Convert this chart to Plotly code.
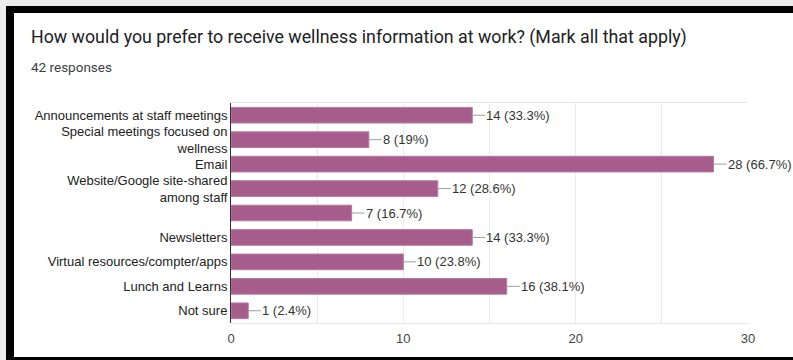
import plotly.graph_objects as go

# Survey responses (42 respondents, multiple answers allowed)
categories = [
    "Announcements at staff meetings",
    "Special meetings focused on<br>wellness",
    "Email",
    "Website/Google site-shared<br>among staff",
    " ",
    "Newsletters",
    "Virtual resources/compter/apps",
    "Lunch and Learns",
    "Not sure",
]
counts = [14, 8, 28, 12, 7, 14, 10, 16, 1]
total_responses = 42
x_ticks = [0, 10, 20, 30]

W, H = 793, 360
ML, MR, MT, MB = 231, 45, 103, 37
PW, PH = W - ML - MR, H - MT - MB

BAR_COLOR = "#a65d8b"
LABEL_FONT = dict(family="Liberation Sans, Arial, sans-serif", size=13, color="#222222")


def px_x(px):
    """pixel column -> paper x (paper spans the plot area)"""
    return (px - ML) / PW


def px_y(py):
    """pixel row (from top) -> paper y"""
    return (H - MB - py) / PH


def pct_label(n, total):
    p = round(n / total * 100, 1)
    s = f"{p:.1f}"
    if s.endswith(".0"):
        s = s[:-2]
    return f"{n} ({s}%)"


fig = go.Figure(
    go.Bar(
        x=counts,
        y=categories,
        orientation="h",
        marker=dict(color=BAR_COLOR, line=dict(color="#b77aa0", width=1)),
        hoverinfo="skip",
    )
)

# value labels joined to the bar ends by a short leader line
for cat, n in zip(categories, counts):
    fig.add_annotation(
        x=n, y=cat, xref="x", yref="y",
        text=pct_label(n, total_responses),
        showarrow=True, arrowhead=0, arrowwidth=1, arrowcolor="#9e9e9e",
        ax=13, ay=0, axref="pixel", ayref="pixel",
        xanchor="left", standoff=0, borderpad=0,
        font=dict(family=LABEL_FONT["family"], size=13, color="#333333"),
    )

# page frame: grey backdrop strip and black borders
frame = [
    dict(x0=0, x1=W, y0=0, y1=6, fillcolor="#ececec"),
    dict(x0=0, x1=6, y0=0, y1=H, fillcolor="#ececec"),
    dict(x0=6, x1=W, y0=6, y1=13, fillcolor="#000000"),
    dict(x0=6, x1=14, y0=6, y1=H, fillcolor="#000000"),
    dict(x0=6, x1=W, y0=357, y1=H, fillcolor="#000000"),
]
for s in frame:
    fig.add_shape(
        type="rect", xref="paper", yref="paper", line=dict(width=0), layer="above",
        x0=px_x(s["x0"]), x1=px_x(s["x1"]), y0=px_y(s["y1"]), y1=px_y(s["y0"]),
        fillcolor=s["fillcolor"],
    )

# heading and response count
fig.add_annotation(
    x=px_x(29), y=px_y(37), xref="paper", yref="paper",
    text="How would you prefer to receive wellness information at work? (Mark all that apply)",
    showarrow=False, xanchor="left", yanchor="middle",
    font=dict(family="Roboto, sans-serif", size=17.8, color="#202124"),
)
fig.add_annotation(
    x=px_x(29), y=px_y(67), xref="paper", yref="paper",
    text=f"{total_responses} responses",
    showarrow=False, xanchor="left", yanchor="middle",
    font=dict(family="Roboto, sans-serif", size=13.5, color="#3c4043"),
)

fig.update_layout(
    width=W, height=H,
    margin=dict(l=ML, r=MR, t=MT, b=MB, autoexpand=False),
    paper_bgcolor="white", plot_bgcolor="white",
    bargap=0.36,
    showlegend=False,
    xaxis=dict(
        range=[0, 30], tickvals=x_ticks, ticktext=[str(v) for v in x_ticks],
        showgrid=True, gridcolor="#ebebeb", gridwidth=1,
        minor=dict(dtick=5, showgrid=True, gridcolor="#ebebeb", gridwidth=1),
        zeroline=False, showline=True, mirror=True, linecolor="#e6e6e6", linewidth=1,
        ticks="", ticklabelstandoff=3,
        tickfont=dict(family=LABEL_FONT["family"], size=13, color="#444444"),
        fixedrange=True,
    ),
    yaxis=dict(
        autorange="reversed", showgrid=False, zeroline=False,
        showline=True, linecolor="#333333", linewidth=1,
        ticks="", ticklabelstandoff=0,
        tickfont=LABEL_FONT,
        fixedrange=True,
    ),
)

fig.write_html("out.html")
